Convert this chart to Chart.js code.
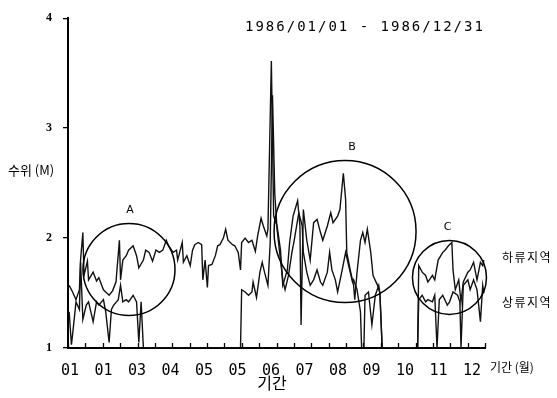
<!DOCTYPE html>
<html><head><meta charset="utf-8">
<script src="https://cdn.jsdelivr.net/npm/chart.js@4"></script>
<style>html,body{margin:0;padding:0;background:#fff;}canvas{display:block}</style>
</head><body>
<canvas id="c" width="557" height="398"></canvas>
<script>
const chartTitle = '1986/01/01 - 1986/12/31';
const yAxisTitle = '수위 (M)';
const xAxisTitle = '기간';
const xAxisUnit = '기간 (월)';
const seriesNames = ['하류지역', '상류지역'];
const monthLabels = ['01','01','03','04','05','05','06','07','08','09','10','11','12'];
const yTickValues = [1, 2, 3, 4];

const downstreamDays = [1,4,7,10,11,13,14,17,18,22,25,27,31,33,36,39,42,45,46,48,51,53,57,60,62,66,68,71,74,77,80,83,86,88,92,95,96,100,101,104,107,109,111,114,117,118,120,122,123,126,129,131,133,136,138,140,144,146,149,151,152,155,158,161,164,166,169,171,174,175,178,180,183,186,188,192,194,197,201,203,204,206,209,212,215,218,221,223,227,230,232,236,238,241,243,244,247,250,251,253,256,258,260,262,265,267,271,273,275,306,307,310,313,315,319,321,324,328,330,333,336,337,339,342,344,346,350,352,355,358,361,363,364];
const downstreamLevel = [1.57,1.51,1.44,1.53,1.80,2.05,1.66,1.79,1.62,1.69,1.61,1.64,1.53,1.51,1.48,1.52,1.60,1.98,1.62,1.80,1.84,1.89,1.93,1.84,1.73,1.80,1.89,1.87,1.79,1.89,1.87,1.89,1.98,1.93,1.87,1.89,1.80,1.96,1.78,1.84,1.75,1.89,1.94,1.96,1.94,1.62,1.80,1.55,1.75,1.76,1.84,1.93,1.94,2.00,2.08,1.98,1.94,1.93,1.87,1.71,1.96,2.00,1.96,1.98,1.88,2.02,2.18,2.11,2.02,2.08,3.61,2.20,2.11,1.89,1.57,1.71,1.96,2.20,2.34,2.11,1.21,2.26,1.98,1.80,2.14,2.17,2.05,1.98,2.11,2.23,2.14,2.20,2.26,2.59,2.35,1.87,1.71,1.57,1.44,1.69,1.98,2.05,1.96,2.08,1.87,1.66,1.57,1.50,1.00,1.00,1.75,1.69,1.66,1.60,1.66,1.62,1.80,1.87,1.89,1.93,1.96,1.71,1.53,1.62,1.42,1.60,1.69,1.71,1.78,1.62,1.78,1.75,1.80];

const upstreamDays = [1,3,4,7,10,11,13,16,18,22,25,27,31,33,36,38,40,44,46,48,51,53,57,60,62,64,66,151,152,155,158,161,162,165,168,170,172,175,177,179,181,183,186,188,190,193,196,198,202,205,206,209,212,215,218,221,223,227,229,231,234,236,240,243,245,249,250,253,256,257,259,260,263,266,269,272,273,275,306,307,310,313,315,319,321,323,325,328,332,334,337,341,343,344,346,350,352,355,358,361,363,364];
const upstreamLevel = [1.33,1.03,1.12,1.42,1.35,1.78,1.26,1.39,1.42,1.24,1.42,1.39,1.44,1.33,1.05,1.35,1.39,1.44,1.57,1.42,1.44,1.42,1.48,1.42,1.05,1.42,1.00,1.00,1.53,1.51,1.48,1.51,1.60,1.46,1.69,1.78,1.69,1.57,1.96,3.30,2.40,2.08,1.80,1.62,1.53,1.66,1.87,1.98,2.23,2.11,1.87,1.69,1.57,1.62,1.71,1.60,1.57,1.69,1.87,1.71,1.62,1.51,1.71,1.87,1.78,1.60,1.62,1.53,1.33,1.00,1.00,1.48,1.51,1.21,1.48,1.57,1.50,1.00,1.00,1.44,1.48,1.42,1.44,1.42,1.48,1.00,1.44,1.48,1.39,1.42,1.51,1.48,1.42,1.00,1.57,1.62,1.53,1.62,1.53,1.24,1.57,1.50];

const regionNames = ['A', 'B', 'C'];
const regionDays = [53.4, 242.5, 333.9];
const regionLevels = [1.714, 2.06, 1.642];

const zip = (xs, ys) => xs.map((d, i) => ({ x: d, y: ys[i] }));

const annotPlugin = {
  id: 'annot',
  afterDraw(chart, args, o) {
    const { ctx, chartArea, scales: { x, y } } = chart;
    ctx.save();
    ctx.fillStyle = '#000';
    ctx.strokeStyle = '#000';
    // inward tick marks on the time axis
    ctx.lineWidth = 1.3;
    x.ticks.forEach(t => {
      const px = Math.round(x.getPixelForValue(t.value)) + 0.5;
      ctx.beginPath();
      ctx.moveTo(px, chartArea.bottom);
      ctx.lineTo(px, chartArea.bottom - o.tickLen);
      ctx.stroke();
    });
    ctx.lineWidth = 1.5;
    regionNames.forEach((n, i) => {
      const cx = x.getPixelForValue(regionDays[i]);
      const cy = y.getPixelForValue(regionLevels[i]);
      const r = o.radii[i];
      ctx.beginPath();
      ctx.arc(cx, cy, r, 0, Math.PI * 2);
      ctx.stroke();
      ctx.font = '11px "DejaVu Sans"';
      ctx.textAlign = 'center';
      ctx.textBaseline = 'middle';
      ctx.fillText(n, cx + o.labelDx[i], cy - r - 13);
    });
    const txt = (s, font, px, py, align, spacing) => {
      ctx.font = font;
      ctx.textAlign = align;
      ctx.textBaseline = 'middle';
      ctx.letterSpacing = spacing || '0px';
      ctx.fillText(s, px, py);
    };
    txt(chartTitle, '14px "DejaVu Sans Mono"', 245, 27, 'left', '2px');
    txt(yAxisTitle, '13px "Noto Sans CJK KR"', 8, 170, 'left');
    txt(xAxisTitle, '16px "Noto Sans CJK KR"', 272, 383, 'center');
    txt(xAxisUnit, '12px "Noto Sans CJK KR"', 490, 367, 'left');
    txt(seriesNames[0], '12px "Noto Sans CJK KR"', 502, 257, 'left', '1.5px');
    txt(seriesNames[1], '12px "Noto Sans CJK KR"', 502, 302, 'left', '1.5px');
    ctx.restore();
  }
};

new Chart(document.getElementById('c'), {
  type: 'line',
  data: {
    datasets: [
      { label: seriesNames[0], data: zip(downstreamDays, downstreamLevel), borderColor: '#111', borderWidth: 1.4, pointRadius: 0, tension: 0, fill: false },
      { label: seriesNames[1], data: zip(upstreamDays, upstreamLevel), borderColor: '#111', borderWidth: 1.4, pointRadius: 0, tension: 0, fill: false }
    ]
  },
  options: {
    responsive: false,
    animation: false,
    devicePixelRatio: 1,
    layout: { padding: { top: 14, right: 72, left: 0, bottom: 0 } },
    plugins: {
      legend: { display: false },
      tooltip: { enabled: false },
      annot: { radii: [46, 71, 37], labelDx: [1, 7, -2], tickLen: 5 }
    },
    scales: {
      x: {
        type: 'linear', position: 'bottom', min: 0, max: 365,
        afterBuildTicks(s) { s.ticks = Array.from({ length: 25 }, (_, k) => ({ value: k * 365 / 24 })); },
        ticks: { display: false },
        grid: { display: false },
        border: { display: true, color: '#000', width: 2 },
        afterFit(s) { s.height = 6; }
      },
      xl: {
        type: 'linear', position: 'bottom', min: -0.06, max: 12.39,
        afterBuildTicks(s) { s.ticks = monthLabels.map((_, k) => ({ value: k })); },
        ticks: { callback: (v, i) => monthLabels[i], font: { family: 'DejaVu Sans Mono', size: 15 }, color: '#000', padding: 0, maxRotation: 0, autoSkip: false },
        grid: { display: false },
        border: { display: false },
        afterFit(s) { s.height = 44; }
      },
      y: {
        min: 1, max: 4,
        afterBuildTicks(s) { s.ticks = yTickValues.map(v => ({ value: v })); },
        ticks: { font: { family: 'Liberation Serif', size: 12, weight: 'bold' }, color: '#000', padding: 11 },
        grid: { drawOnChartArea: false, tickLength: 5, color: '#000', lineWidth: 1.3 },
        border: { color: '#000', width: 2 },
        afterFit(s) { s.width = 68; }
      }
    }
  },
  plugins: [annotPlugin]
});
</script>
</body></html>
